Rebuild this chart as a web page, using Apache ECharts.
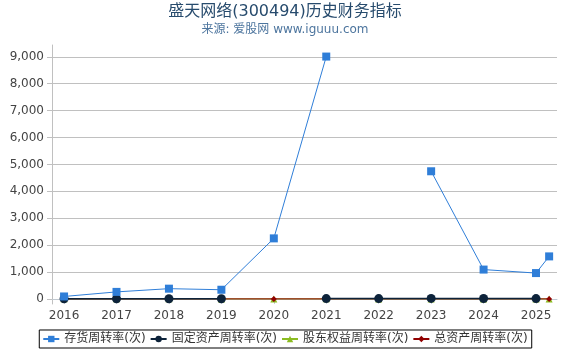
<!DOCTYPE html>
<html><head><meta charset="utf-8">
<script src="https://cdn.jsdelivr.net/npm/echarts@6/dist/echarts.min.js"></script>
<style>html,body{margin:0;padding:0;background:#fff}#c{width:570px;height:350px}</style>
</head><body><div id="c"></div>
<script>
var xPos = [2016, 2017, 2018, 2019, 2020, 2021, 2022, 2023, 2024, 2025, 2025.25];
var yearTicks = [2016, 2017, 2018, 2019, 2020, 2021, 2022, 2023, 2024, 2025];
var yTicks = [0, 1000, 2000, 3000, 4000, 5000, 6000, 7000, 8000, 9000];
var inventoryTurnover = [90, 260, 380, 340, 2250, 9010, null, 4745, 1090, 960, 1580];
var fixedAssetTurnover = [5, 6, 7, 7, null, 10, 12, 18, 14, 10, null];
var equityTurnover = [0.6, 0.6, 0.6, 0.5, 0.5, 0.6, 0.5, 0.5, 0.5, 0.5, 0.1];
var totalAssetTurnover = [0.5, 0.5, 0.5, 0.4, 0.4, 0.5, 0.4, 0.4, 0.4, 0.4, 0.1];
var names = ['存货周转率(次)', '固定资产周转率(次)', '股东权益周转率(次)', '总资产周转率(次)'];

function pairs(vals) { return xPos.map(function (x, i) { return [x, vals[i]]; }); }

var chart = echarts.init(document.getElementById('c'), null, {renderer: 'canvas'});
var font = "'DejaVu Sans', 'Noto Sans CJK SC', sans-serif";
chart.setOption({
  animation: false,
  textStyle: {fontFamily: font},
  title: {
    text: '盛天网络(300494)历史财务指标',
    subtext: '来源: 爱股网 www.iguuu.com',
    left: 'center', top: -1, itemGap: 4,
    textStyle: {fontSize: 16, fontWeight: 'normal', color: '#274b6d', fontFamily: font},
    subtextStyle: {fontSize: 12, color: '#4d759e', fontFamily: font}
  },
  legend: {
    bottom: 2, left: 'center',
    borderColor: '#000', borderWidth: 1, borderRadius: 0,
    padding: [3, 4, 3, 3], itemGap: 4, itemWidth: 16, itemHeight: 8,
    textStyle: {fontSize: 12, color: '#333', fontFamily: font},
    data: names
  },
  grid: {left: 52, right: 13, top: 45, bottom: 46, containLabel: false},
  xAxis: {
    type: 'value', min: 2015.77, max: 2025.4,
    splitLine: {show: false},
    axisLine: {show: true, lineStyle: {color: '#c0c8d0'}},
    axisTick: {show: true, length: 5, lineStyle: {color: '#c0c8d0'}, customValues: yearTicks},
    axisLabel: {customValues: yearTicks, color: '#444', fontSize: 12, margin: 6, formatter: function (v) { return String(Math.round(v)); }}
  },
  yAxis: {
    type: 'value', min: -190, max: 9440,
    axisLine: {show: true, lineStyle: {color: '#c0c0c0'}},
    axisTick: {show: true, length: 5, lineStyle: {color: '#c0c0c0'}, customValues: yTicks},
    splitLine: {show: true, lineStyle: {color: '#c0c0c0', width: 1}},
    axisLabel: {customValues: yTicks, color: '#444', fontSize: 12, margin: 8, formatter: function (v) { return v.toLocaleString('en-US'); }}
  },
  series: [
    {name: names[0], type: 'line', data: pairs(inventoryTurnover), symbol: 'rect', symbolSize: 8, z: 5,
      itemStyle: {color: '#2f7ed8'}, lineStyle: {width: 1, color: '#2f7ed8'}, connectNulls: false},
    {name: names[2], type: 'line', data: pairs(equityTurnover), symbol: 'triangle', symbolSize: 7, z: 2,
      itemStyle: {color: '#8bbc21'}, lineStyle: {width: 1, color: '#8bbc21'}},
    {name: names[3], type: 'line', data: pairs(totalAssetTurnover), symbol: 'diamond', symbolSize: 6, z: 3,
      itemStyle: {color: '#910000'}, lineStyle: {width: 1, color: '#910000'}},
    {name: names[1], type: 'line', data: pairs(fixedAssetTurnover), symbol: 'circle', symbolSize: 9, z: 4,
      itemStyle: {color: '#0d233a'}, lineStyle: {width: 1.5, color: '#0d233a'}, connectNulls: false}
  ]
});
</script></body></html>
